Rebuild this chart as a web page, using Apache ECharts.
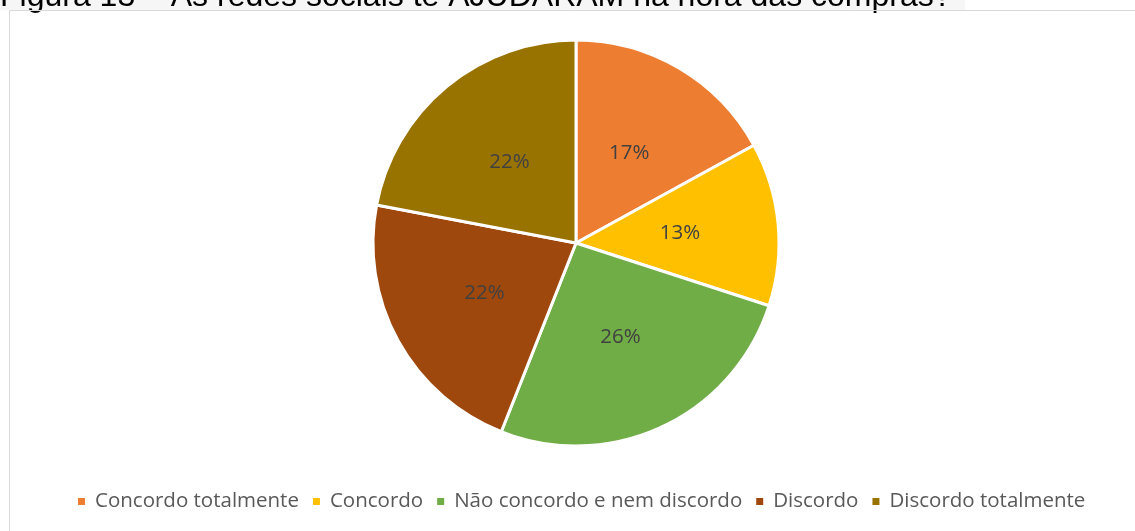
<!DOCTYPE html>
<html>
<head>
<meta charset="utf-8">
<script src="https://cdn.jsdelivr.net/npm/echarts@6/dist/echarts.min.js"></script>
<style>
  html, body { margin: 0; padding: 0; background: #ffffff; }
  #chart { width: 1135px; height: 531px; }
</style>
</head>
<body>
<div id="chart"></div>
<script>
// Survey answers and their shares (percent)
const categories = [
  'Concordo totalmente',
  'Concordo',
  'Não concordo e nem discordo',
  'Discordo',
  'Discordo totalmente'
];
const shares = [17, 13, 26, 22, 22];
const sliceColors = ['#ED7D31', '#FFC000', '#70AD47', '#9E480E', '#997300'];
const figureTitle = 'Figura 13 – As redes sociais te AJUDARAM na hora das compras?';

const chart = echarts.init(document.getElementById('chart'), null, { renderer: 'canvas' });

chart.setOption({
  animation: false,
  backgroundColor: '#ffffff',
  color: sliceColors,
  graphic: [
    // caption strip above the chart frame
    { type: 'rect', shape: { x: 0, y: 0, width: 965, height: 10 }, style: { fill: '#f6f6f6' }, z: 1 },
    { type: 'text', x: 0, y: -19, style: { text: figureTitle, font: '32px "Liberation Sans", Arial, sans-serif', fill: '#000000', verticalAlign: 'top' }, z: 2 },
    // chart frame
    { type: 'rect', shape: { x: 9.5, y: 10.5, width: 1140, height: 540 }, style: { fill: 'none', stroke: '#d9d9d9', lineWidth: 1 }, z: 3 }
  ],
  legend: {
    data: categories,
    left: 71,
    top: 486,
    itemWidth: 9,
    itemHeight: 9,
    itemGap: 12,
    icon: 'rect',
    textStyle: {
      fontFamily: '"Open Sans", sans-serif',
      fontSize: 20.5,
      color: '#595959',
      padding: [0, 0, 0, 4]
    }
  },
  series: [{
    type: 'pie',
    center: [576, 243],
    radius: [0, 203],
    startAngle: 90,
    clockwise: true,
    data: categories.map((name, i) => ({ name, value: shares[i] })),
    itemStyle: { borderColor: '#ffffff', borderWidth: 3 },
    label: {
      show: true,
      position: 'inner',
      formatter: p => p.value + '%',
      fontFamily: '"Open Sans", sans-serif',
      fontSize: 20.5,
      color: '#404040'
    },
    labelLine: { show: false },
    emphasis: { disabled: true }
  }]
});
</script>
</body>
</html>
